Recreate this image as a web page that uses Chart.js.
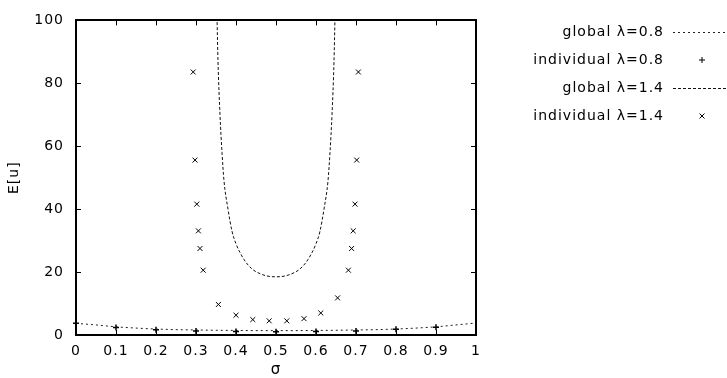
<!DOCTYPE html>
<html>
<head>
<meta charset="utf-8">
<script src="https://cdn.jsdelivr.net/npm/chart.js@4"></script>
<style>
  body { margin: 0; background: #fff; }
  #canvas { display: block; }
</style>
</head>
<body>
<canvas id="canvas" width="727" height="378"></canvas>
<script>
// values
var sigmaGlobal08 = [0, 0.05, 0.1, 0.15, 0.2, 0.25, 0.3, 0.35, 0.4, 0.45, 0.5, 0.55, 0.6, 0.65, 0.7, 0.75, 0.8, 0.85, 0.9, 0.95, 1];
var valuesGlobal08 = [3.7, 3.2, 2.6, 2.2, 1.9, 1.7, 1.6, 1.5, 1.45, 1.4, 1.4, 1.4, 1.45, 1.5, 1.6, 1.7, 1.9, 2.2, 2.6, 3.2, 3.8];

var sigmaIndiv08 = [0, 0.1, 0.2, 0.3, 0.4, 0.5, 0.6, 0.7, 0.8, 0.9];
var valuesIndiv08 = [3.7, 2.4, 1.7, 1.3, 1.1, 1.0, 1.1, 1.3, 1.8, 2.5];

var sigmaGlobal14 = [0.35, 0.355, 0.36, 0.365, 0.37, 0.38, 0.39, 0.4, 0.42, 0.44, 0.46, 0.48, 0.5,
  0.52, 0.54, 0.56, 0.58, 0.6, 0.61, 0.62, 0.63, 0.635, 0.64, 0.645, 0.65];
var valuesGlobal14 = [117, 87, 70, 58, 49, 40, 33, 29, 24, 21, 19.5, 18.7, 18.5,
  18.7, 19.5, 21, 24, 29, 33, 40, 49, 58, 70, 87, 117];

var sigmaIndiv14 = [0.293, 0.2975, 0.302, 0.306, 0.31, 0.318, 0.356, 0.4, 0.442, 0.483,
  0.527, 0.57, 0.612, 0.654, 0.681, 0.689, 0.693, 0.6975, 0.7017, 0.706];
var valuesIndiv14 = [83.6, 55.6, 41.6, 33.1, 27.5, 20.6, 9.7, 6.3, 4.9, 4.5,
  4.5, 5.2, 7.0, 11.8, 20.6, 27.5, 33.1, 41.6, 55.6, 83.6];

var xTickLabels = ["0", "0.1", "0.2", "0.3", "0.4", "0.5", "0.6", "0.7", "0.8", "0.9", "1"];
var yTickLabels = ["0", "20", "40", "60", "80", "100"];
var legendLabels = ["global \u03bb=0.8", "individual \u03bb=0.8", "global \u03bb=1.4", "individual \u03bb=1.4"];

var FONT = '"DejaVu Sans", sans-serif';

function points(xs, ys) {
  return xs.map(function (x, i) { return { x: x, y: ys[i] }; });
}

// gnuplot style box with inward ticks on all four sides
var framePlugin = {
  id: "frame",
  afterDatasetsDraw: function (chart) {
    var ctx = chart.ctx, a = chart.chartArea;
    var xs = chart.scales.x, ys = chart.scales.y;
    ctx.save();
    ctx.strokeStyle = "#000";
    ctx.lineWidth = 1;
    ctx.beginPath();
    xs.ticks.forEach(function (t) {
      var px = Math.round(xs.getPixelForValue(t.value)) + 0.5;
      ctx.moveTo(px, a.bottom); ctx.lineTo(px, a.bottom - 5);
      ctx.moveTo(px, a.top); ctx.lineTo(px, a.top + 5);
    });
    ys.ticks.forEach(function (t) {
      var py = Math.round(ys.getPixelForValue(t.value)) + 0.5;
      ctx.moveTo(a.left, py); ctx.lineTo(a.left + 5, py);
      ctx.moveTo(a.right, py); ctx.lineTo(a.right - 5, py);
    });
    ctx.stroke();
    ctx.lineWidth = 2;
    ctx.strokeRect(Math.round(a.left), Math.round(a.top),
      Math.round(a.right - a.left), Math.round(a.bottom - a.top));
    ctx.restore();
  }
};

// key on the right: text right aligned, sample after it
var keyPlugin = {
  id: "key",
  beforeDraw: function (chart) {
    chart.ctx.letterSpacing = "1px";
  },
  afterDraw: function (chart) {
    var ctx = chart.ctx;
    ctx.save();
    ctx.font = "14px " + FONT;
    ctx.letterSpacing = "1px";
    ctx.fillStyle = "#000";
    ctx.textAlign = "right";
    ctx.textBaseline = "middle";
    chart.data.datasets.forEach(function (ds, i) {
      var y = 32 + i * 28;
      ctx.fillText(legendLabels[i], 664, y);
      if (ds.showLine) {
        ctx.beginPath();
        ctx.strokeStyle = ds.borderColor;
        ctx.lineWidth = 1;
        ctx.setLineDash(ds.borderDash || []);
        ctx.moveTo(673, y + 0.5);
        ctx.lineTo(727, y + 0.5);
        ctx.stroke();
        ctx.setLineDash([]);
      } else {
        ctx.strokeStyle = "#000";
        Chart.helpers.drawPoint(ctx, {
          pointStyle: ds.pointStyle,
          radius: ds.pointRadius,
          borderWidth: ds.pointBorderWidth,
          rotation: 0
        }, 702, y);
      }
    });
    ctx.restore();
  }
};

var config = {
  type: "scatter",
  data: {
    datasets: [
      {
        label: legendLabels[0],
        data: points(sigmaGlobal08, valuesGlobal08),
        showLine: true,
        borderColor: "#222",
        borderWidth: 1,
        borderDash: [2, 3],
        pointRadius: 0,
        cubicInterpolationMode: "monotone"
      },
      {
        label: legendLabels[1],
        data: points(sigmaIndiv08, valuesIndiv08),
        showLine: false,
        clip: false,
        pointStyle: "cross",
        pointRadius: 3,
        pointBorderWidth: 1.5,
        borderColor: "#000",
        backgroundColor: "#000"
      },
      {
        label: legendLabels[2],
        data: points(sigmaGlobal14, valuesGlobal14),
        showLine: true,
        borderColor: "#111",
        borderWidth: 1,
        borderDash: [3, 2],
        pointRadius: 0,
        cubicInterpolationMode: "monotone"
      },
      {
        label: legendLabels[3],
        data: points(sigmaIndiv14, valuesIndiv14),
        showLine: false,
        pointStyle: "crossRot",
        pointRadius: 3.5,
        pointBorderWidth: 1,
        borderColor: "#000",
        backgroundColor: "#000"
      }
    ]
  },
  options: {
    responsive: false,
    animation: false,
    layout: { padding: { top: 16, right: 251, left: 0, bottom: 0 } },
    plugins: {
      legend: { display: false },
      tooltip: { enabled: false }
    },
    scales: {
      x: {
        type: "linear",
        min: 0,
        max: 1,
        grid: { display: false, drawTicks: false },
        border: { display: false },
        ticks: {
          stepSize: 0.1,
          padding: 8,
          color: "#000",
          font: { family: FONT, size: 14 },
          callback: function (v, i) { return xTickLabels[i]; }
        },
        title: {
          display: true,
          text: "\u03c3",
          color: "#000",
          font: { family: FONT, size: 15 },
          padding: { top: 0, bottom: -1 }
        },
        afterFit: function (scale) { scale.height = 43; }
      },
      y: {
        min: 0,
        max: 100,
        grid: { display: false, drawTicks: false },
        border: { display: false },
        ticks: {
          stepSize: 20,
          padding: 12,
          color: "#000",
          font: { family: FONT, size: 14 },
          callback: function (v, i) { return yTickLabels[i]; }
        },
        title: {
          display: true,
          text: "E[u]",
          color: "#000",
          font: { family: FONT, size: 14 },
          padding: { top: 6, bottom: 0 }
        },
        afterFit: function (scale) { scale.width = 76; }
      }
    }
  },
  plugins: [framePlugin, keyPlugin]
};

var myChart = new Chart(document.getElementById("canvas"), config);
</script>
</body>
</html>
